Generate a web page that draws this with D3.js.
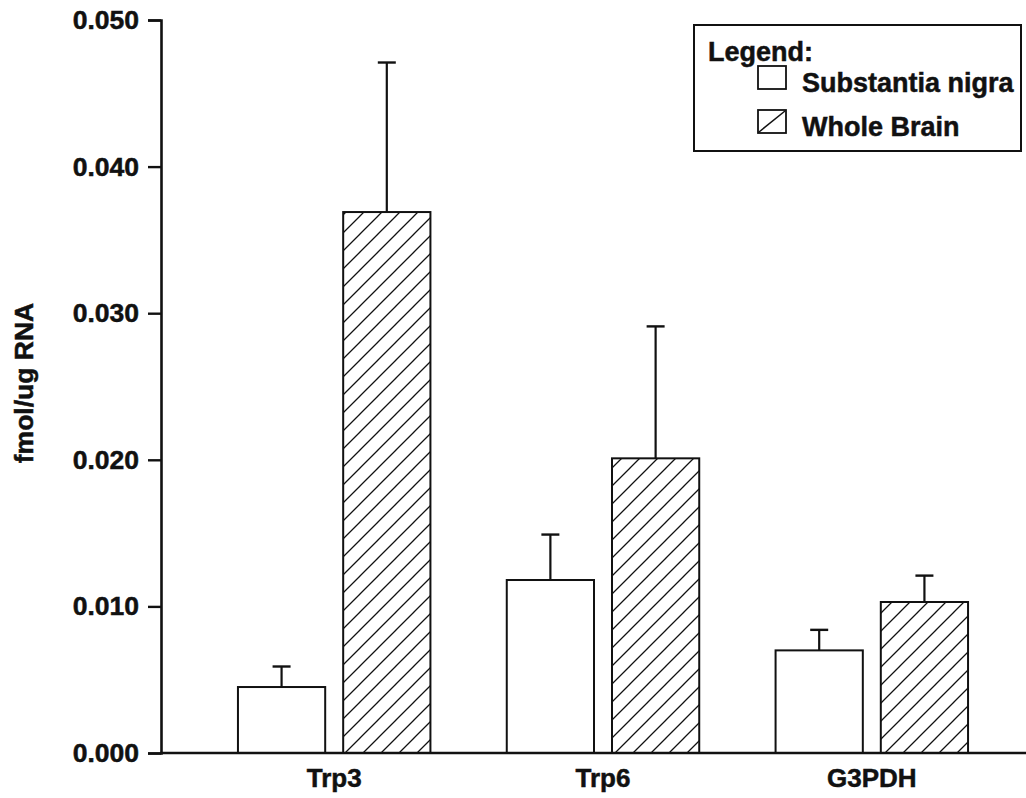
<!DOCTYPE html>
<html>
<head>
<meta charset="utf-8">
<script src="https://cdn.jsdelivr.net/npm/d3@7"></script>
<style>
  html, body { margin: 0; padding: 0; background: #fff; }
  svg { display: block; font-family: "Liberation Sans", Arial, sans-serif; font-weight: bold; }
  svg text { stroke: #111; stroke-width: 0.5px; }
</style>
</head>
<body>
<svg width="1026" height="798"></svg>
<script>
var categories = ["Trp3", "Trp6", "G3PDH"];
var seriesNames = ["Substantia nigra", "Whole Brain"];
var snValues = [0.0045, 0.0118, 0.0070];
var snErrors = [0.0014, 0.0031, 0.0014];
var wbValues = [0.0369, 0.0201, 0.0103];
var wbErrors = [0.0102, 0.0090, 0.0018];
var yTicks = [0, 0.01, 0.02, 0.03, 0.04, 0.05];

var width = 1026,
  height = 798;

var svg = d3.select("svg");

// hatch pattern for whole brain bars
svg
  .append("defs")
  .append("pattern")
  .attr("id", "hatch")
  .attr("patternUnits", "userSpaceOnUse")
  .attr("width", 18)
  .attr("height", 18)
  .append("path")
  .attr("d", "M0,18 L18,0 M-4.5,4.5 L4.5,-4.5 M13.5,22.5 L22.5,13.5")
  .attr("stroke", "#111")
  .attr("stroke-width", 1.3);

var x = d3
  .scaleBand()
  .domain(categories)
  .range([160, 1046])
  .paddingInner(0.284)
  .paddingOuter(0.29);

var xs = d3
  .scaleBand()
  .domain(seriesNames)
  .range([0, x.bandwidth()])
  .paddingInner(0.171);

var y = d3.scaleLinear().domain([0, 0.05]).range([753, 20]);

var data = [];
categories.forEach((c, i) => {
  data.push({ cat: c, s: seriesNames[0], v: snValues[i], e: snErrors[i] });
  data.push({ cat: c, s: seriesNames[1], v: wbValues[i], e: wbErrors[i] });
});

var g = svg.append("g");

// error bars (upper only)
g.selectAll("line.err")
  .data(data)
  .enter()
  .append("line")
  .attr("class", "err")
  .attr("x1", (d) => x(d.cat) + xs(d.s) + xs.bandwidth() / 2)
  .attr("x2", (d) => x(d.cat) + xs(d.s) + xs.bandwidth() / 2)
  .attr("y1", (d) => y(d.v))
  .attr("y2", (d) => y(d.v + d.e))
  .attr("stroke", "#111")
  .attr("stroke-width", 2.2);

g.selectAll("line.cap")
  .data(data)
  .enter()
  .append("line")
  .attr("class", "cap")
  .attr("x1", (d) => x(d.cat) + xs(d.s) + xs.bandwidth() / 2 - 9)
  .attr("x2", (d) => x(d.cat) + xs(d.s) + xs.bandwidth() / 2 + 9)
  .attr("y1", (d) => y(d.v + d.e))
  .attr("y2", (d) => y(d.v + d.e))
  .attr("stroke", "#111")
  .attr("stroke-width", 2.4);

g.selectAll("rect.bar")
  .data(data)
  .enter()
  .append("rect")
  .attr("class", "bar")
  .attr("x", (d) => x(d.cat) + xs(d.s))
  .attr("y", (d) => y(d.v))
  .attr("width", xs.bandwidth())
  .attr("height", (d) => y(0) - y(d.v))
  .attr("fill", (d) => (d.s == seriesNames[1] ? "url(#hatch)" : "#fff"))
  .attr("stroke", "#111")
  .attr("stroke-width", 2);

// y axis
var yAxis = g
  .append("g")
  .attr("transform", "translate(161,0)")
  .call(
    d3
      .axisLeft(y)
      .tickValues(yTicks)
      .tickFormat(d3.format(".3f"))
      .tickSizeOuter(0)
      .tickSize(13)
      .tickPadding(9)
  );
yAxis.select(".domain").attr("stroke", "#111").attr("stroke-width", 2.6);
yAxis.selectAll(".tick line").attr("stroke", "#111").attr("stroke-width", 2.4);
yAxis
  .selectAll(".tick text")
  .attr("fill", "#111")
  .style("font-size", "26.5px")
  .style("font-weight", "bold")
  .style("font-family", "'Liberation Sans', Arial, sans-serif");

// baseline
g.append("line")
  .attr("x1", 160)
  .attr("x2", width)
  .attr("y1", y(0))
  .attr("y2", y(0))
  .attr("stroke", "#111")
  .attr("stroke-width", 2.6);

// category labels
g.selectAll("text.cat")
  .data(categories)
  .enter()
  .append("text")
  .attr("class", "cat")
  .attr("x", (d) => x(d) + x.bandwidth() / 2)
  .attr("y", 787)
  .attr("text-anchor", "middle")
  .attr("fill", "#111")
  .style("font-size", "26px")
  .text((d) => d);

// y title
g.append("text")
  .attr("transform", "translate(33,383) rotate(-90)")
  .attr("text-anchor", "middle")
  .attr("fill", "#111")
  .style("font-size", "26.5px")
  .text("fmol/ug RNA");

// legend
var lg = svg.append("g");
lg.append("rect")
  .attr("x", 694)
  .attr("y", 25)
  .attr("width", 327)
  .attr("height", 126)
  .attr("fill", "#fff")
  .attr("stroke", "#111")
  .attr("stroke-width", 2);
lg.append("text")
  .attr("x", 708)
  .attr("y", 61)
  .attr("fill", "#111")
  .style("font-size", "27px")
  .text("Legend:");

var items = lg
  .selectAll("g.item")
  .data(seriesNames)
  .enter()
  .append("g")
  .attr("class", "item")
  .attr("transform", (d, i) => "translate(758," + (66 + i * 44) + ")");
items
  .append("rect")
  .attr("width", 28)
  .attr("height", 23)
  .attr("fill", "#fff")
  .attr("stroke", "#111")
  .attr("stroke-width", 1.8);
items
  .filter((d, i) => i == 1)
  .append("line")
  .attr("x1", 1)
  .attr("y1", 22)
  .attr("x2", 27)
  .attr("y2", 1)
  .attr("stroke", "#111")
  .attr("stroke-width", 1.5);
items
  .append("text")
  .attr("x", 44)
  .attr("y", 26)
  .attr("fill", "#111")
  .style("font-size", "27px")
  .text((d) => d);
</script>
</body>
</html>
